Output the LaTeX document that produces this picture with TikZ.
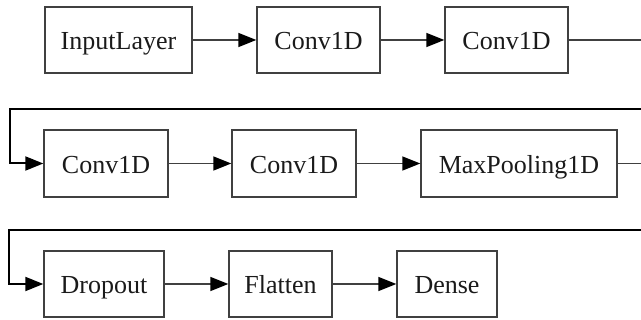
\documentclass[tikz,border=0pt]{standalone}
\usepackage{fontspec}
\setmainfont{Liberation Serif}
\usetikzlibrary{arrows.meta}
\definecolor{edgegray}{HTML}{404040}
\definecolor{textgray}{HTML}{1A1A1A}
\begin{document}
\begin{tikzpicture}[x=1pt,y=-1pt,
  layer/.style={draw=edgegray,line width=1.4pt,rectangle,inner sep=0pt,
    text height=24pt,text depth=4pt,
    text=textgray,font=\fontsize{26}{30}\selectfont},
  tip/.style={-{Triangle[length=18pt,width=14pt,color=black,fill=black]}},
  flow/.style={draw=edgegray,line width=1.4pt,tip},
  wrap/.style={draw=black,line width=2pt,tip}]
\useasboundingbox (0,0) rectangle (641,320);
\clip (0,0) rectangle (641,320);
% row 1
\node[layer,minimum width=147pt,minimum height=66pt] (in) at (118.5,40) {InputLayer};
\node[layer,minimum width=123pt,minimum height=66pt] (c1) at (318.5,40) {Conv1D};
\node[layer,minimum width=123pt,minimum height=66pt] (c2) at (506.5,40) {Conv1D};
% row 2
\node[layer,minimum width=124pt,minimum height=67pt] (c3) at (106,163.5) {Conv1D};
\node[layer,minimum width=124pt,minimum height=67pt] (c4) at (294,163.5) {Conv1D};
\node[layer,minimum width=196pt,minimum height=67pt] (mp) at (519,163.5) {MaxPooling1D};
% row 3
\node[layer,minimum width=120pt,minimum height=66pt] (do) at (104,284) {Dropout};
\node[layer,minimum width=103pt,minimum height=66pt] (fl) at (280.5,284) {Flatten};
\node[layer,minimum width=100pt,minimum height=66pt] (de) at (447,284) {Dense};
% connectors
\draw[flow] (in) -- (c1);
\draw[flow] (c1) -- (c2);
\draw[flow] (c3) -- (c4);
\draw[flow] (c4) -- (mp);
\draw[flow] (do) -- (fl);
\draw[flow] (fl) -- (de);
\coordinate (r1) at (660,40);
\coordinate (r2) at (660,163.5);
\draw[draw=edgegray,line width=1.4pt] (c2.east) -- (r1);
\draw[wrap] (r1) -- (660,109) -- (10,109) -- (10,163.5) -- (c3.west);
\draw[draw=edgegray,line width=1.4pt] (mp.east) -- (r2);
\draw[wrap] (r2) -- (660,230) -- (9,230) -- (9,284) -- (do.west);
\end{tikzpicture}
\end{document}
